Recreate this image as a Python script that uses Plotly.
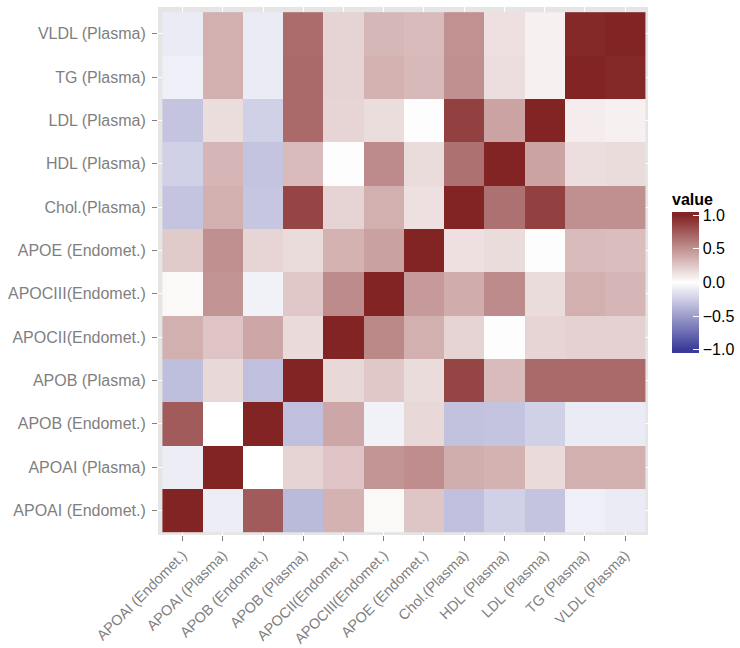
import numpy as np
import plotly.graph_objects as go

labels = ["APOAI (Endomet.)", "APOAI (Plasma)", "APOB (Endomet.)", "APOB (Plasma)",
          "APOCII(Endomet.)", "APOCIII(Endomet.)", "APOE (Endomet.)", "Chol.(Plasma)",
          "HDL (Plasma)", "LDL (Plasma)", "TG (Plasma)", "VLDL (Plasma)"]

# rows follow labels order (bottom to top), columns follow labels order (left to right)
row_apoai_endo = [1.00, -0.09, 0.75, -0.35, 0.35, 0.03, 0.26, -0.32, -0.24, -0.30, -0.08, -0.10]
row_apoai_plas = [-0.09, 1.00, 0.00, 0.20, 0.27, 0.48, 0.52, 0.37, 0.35, 0.17, 0.36, 0.36]
row_apob_endo = [0.75, 0.00, 1.00, -0.32, 0.40, -0.07, 0.18, -0.31, -0.30, -0.24, -0.10, -0.10]
row_apob_plas = [-0.33, 0.18, -0.32, 1.00, 0.18, 0.25, 0.16, 0.85, 0.31, 0.68, 0.68, 0.68]
row_apocii = [0.36, 0.27, 0.40, 0.17, 1.00, 0.54, 0.36, 0.20, 0.01, 0.19, 0.21, 0.21]
row_apociii = [0.03, 0.49, -0.07, 0.25, 0.53, 1.00, 0.46, 0.38, 0.53, 0.16, 0.36, 0.34]
row_apoe = [0.24, 0.51, 0.19, 0.16, 0.35, 0.43, 1.00, 0.14, 0.16, 0.01, 0.31, 0.30]
row_chol = [-0.30, 0.36, -0.29, 0.85, 0.20, 0.36, 0.14, 1.00, 0.65, 0.87, 0.51, 0.51]
row_hdl = [-0.24, 0.34, -0.30, 0.31, 0.01, 0.53, 0.16, 0.65, 1.00, 0.42, 0.15, 0.16]
row_ldl = [-0.30, 0.155, -0.24, 0.68, 0.19, 0.155, 0.01, 0.87, 0.42, 1.00, 0.08, 0.07]
row_tg = [-0.08, 0.36, -0.10, 0.68, 0.20, 0.35, 0.32, 0.51, 0.15, 0.07, 1.00, 0.98]
row_vldl = [-0.10, 0.36, -0.10, 0.67, 0.20, 0.33, 0.31, 0.50, 0.14, 0.07, 0.98, 1.00]

z = [row_apoai_endo, row_apoai_plas, row_apob_endo, row_apob_plas, row_apocii, row_apociii,
     row_apoe, row_chol, row_hdl, row_ldl, row_tg, row_vldl]

cbar_ticks = [-1.0, -0.5, 0.0, 0.5, 1.0]
cbar_text = ["\u22121.0", "\u22120.5", "0.0", "0.5", "1.0"]

# diverging scale: muted blue -> white -> muted red over [-1, 1];
# the colour bar is drawn a little past the limits, as ggplot does
ZPAD = 0.05
zlo, zhi = -1 - ZPAD, 1 + ZPAD
edge = ZPAD / (zhi - zlo)
colorscale = [[0.0, "#3A3A98"], [edge, "#3A3A98"], [0.5, "#FFFFFF"],
              [1 - edge, "#832424"], [1.0, "#832424"]]

FONT = "Liberation Sans, Arial, Helvetica, sans-serif"
GREY = "#7F7F7F"

fig = go.Figure(go.Heatmap(
    z=z, x=labels, y=labels,
    zmin=zlo, zmax=zhi, colorscale=colorscale,
    colorbar=dict(
        title=dict(text="<b>value</b>", side="top", font=dict(size=16, color="black", family=FONT)),
        tickvals=cbar_ticks, ticktext=cbar_text,
        tickfont=dict(size=16, color="black", family=FONT),
        ticks="inside", ticklen=6, tickcolor="white",
        thickness=27, thicknessmode="pixels",
        len=163, lenmode="pixels",
        x=1.049, xanchor="left", xpad=0,
        y=0.6535, yanchor="top", ypad=0,
        outlinewidth=0,
    ),
    hoverongaps=False,
))

fig.update_layout(
    width=740, height=648,
    margin=dict(l=157.5, r=92, t=7, b=113, autoexpand=False),
    paper_bgcolor="white",
    plot_bgcolor="#E5E5E5",
    font=dict(family=FONT, color=GREY),
    xaxis=dict(
        type="category", range=[-0.61, 11.57], automargin=False,
        tickangle=-45, tickfont=dict(size=14.5, color=GREY, family=FONT),
        ticks="outside", ticklen=5, tickcolor=GREY, tickwidth=1,
        showgrid=True, gridcolor="white", gridwidth=1, zeroline=False, showline=False,
    ),
    yaxis=dict(
        type="category", range=[-0.57, 11.62], automargin=False,
        tickfont=dict(size=16, color=GREY, family=FONT),
        ticks="outside", ticklen=5, tickcolor=GREY, tickwidth=1,
        ticklabelstandoff=3,
        showgrid=True, gridcolor="white", gridwidth=1, zeroline=False, showline=False,
    ),
)

fig.write_html("out.html")
